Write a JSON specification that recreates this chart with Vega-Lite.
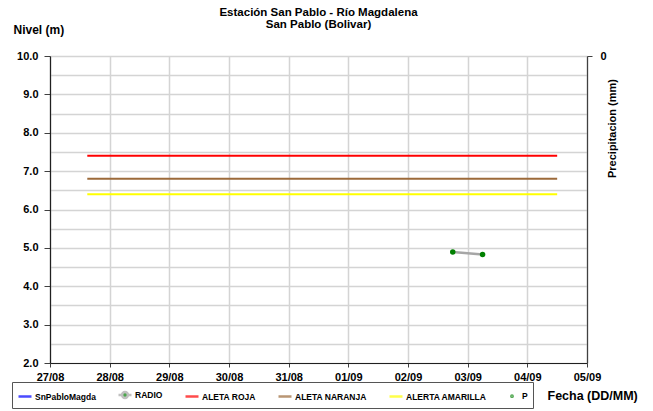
{
  "$schema": "https://vega.github.io/schema/vega-lite/v6.json",
  "autosize": {"type": "none"},
  "width": 537,
  "height": 307,
  "padding": {"left": 50, "top": 56, "right": 66, "bottom": 48},
  "background": "white",
  "title": {
    "text": ["Estación San Pablo - Río Magdalena", "San Pablo (Bolivar)"],
    "font": "Liberation Sans",
    "fontSize": 11.5,
    "fontWeight": "bold",
    "color": "black",
    "anchor": "middle",
    "lineHeight": 12,
    "offset": -7
  },
  "datasets": {
    "alertas": [
      {"serie": "ALETA ROJA", "fecha": "2023-08-27T15:00:00Z", "nivel": 7.4},
      {"serie": "ALETA ROJA", "fecha": "2023-09-04T12:00:00Z", "nivel": 7.4},
      {"serie": "ALETA NARANJA", "fecha": "2023-08-27T15:00:00Z", "nivel": 6.8},
      {"serie": "ALETA NARANJA", "fecha": "2023-09-04T12:00:00Z", "nivel": 6.8},
      {"serie": "ALERTA AMARILLA", "fecha": "2023-08-27T15:00:00Z", "nivel": 6.4},
      {"serie": "ALERTA AMARILLA", "fecha": "2023-09-04T12:00:00Z", "nivel": 6.4}
    ],
    "radio": [
      {"serie": "RADIO", "fecha": "2023-09-02T18:00:00Z", "nivel": 4.89},
      {"serie": "RADIO", "fecha": "2023-09-03T06:00:00Z", "nivel": 4.83}
    ],
    "precip": []
  },
  "layer": [
    {
      "data": {"name": "precip"},
      "mark": {"type": "point", "filled": true},
      "encoding": {
        "y": {
          "field": "p",
          "type": "quantitative",
          "scale": {"domain": [0, 10], "reverse": true, "nice": false, "zero": false},
          "axis": {
            "orient": "right",
            "values": [0],
            "format": "d",
            "grid": false,
            "title": "Precipitacion (mm)",
            "titleAngle": 270,
            "titleX": 25,
            "titleY": 72,
            "titleAlign": "center",
            "titleBaseline": "middle",
            "titleFont": "Liberation Sans",
            "titleFontSize": 11,
            "titleFontWeight": "bold",
            "titleColor": "black",
            "labelFont": "Liberation Sans",
            "labelFontSize": 11,
            "labelFontWeight": "bold",
            "labelColor": "black",
            "labelPadding": 8,
            "domainColor": "#404040",
            "domainWidth": 1.2,
            "tickColor": "#404040",
            "tickSize": 5
          }
        },
        "stroke": {
          "field": "serie",
          "type": "nominal",
          "scale": {
            "domain": ["SnPabloMagda", "RADIO", "ALETA ROJA", "ALETA NARANJA", "ALERTA AMARILLA", "P"],
            "range": ["#0000ff", "#a6a6a6", "#ff0000", "#9c6a3a", "#ffff00", "#008000"]
          }
        },
        "fill": {
          "field": "serie",
          "type": "nominal",
          "scale": {
            "domain": ["SnPabloMagda", "RADIO", "ALETA ROJA", "ALETA NARANJA", "ALERTA AMARILLA", "P"],
            "range": ["transparent", "#008000", "transparent", "transparent", "transparent", "#008000"]
          }
        },
        "shape": {
          "field": "serie",
          "type": "nominal",
          "scale": {
            "domain": ["SnPabloMagda", "RADIO", "ALETA ROJA", "ALETA NARANJA", "ALERTA AMARILLA", "P"],
            "range": [
              "M-1,0H1",
              "M-1,0H-0.45M0.45,0H1M-0.45,0A0.45,0.45,0,1,1,0.45,0A0.45,0.45,0,1,1,-0.45,0Z",
              "M-1,0H1",
              "M-1,0H1",
              "M-1,0H1",
              "M-0.1,0A0.1,0.1,0,1,1,0.1,0A0.1,0.1,0,1,1,-0.1,0Z"
            ]
          }
        }
      }
    },
    {
      "encoding": {
        "x": {
          "field": "fecha",
          "type": "temporal",
          "scale": {
            "type": "utc",
            "nice": false,
            "domain": [
              {"year": 2023, "month": 8, "date": 27, "utc": true},
              {"year": 2023, "month": 9, "date": 5, "utc": true}
            ]
          },
          "axis": {
            "format": "%d/%m",
            "tickCount": {"interval": "day", "step": 1},
            "grid": true,
            "gridColor": "#d4d4d4",
            "gridWidth": 1.5,
            "labelFont": "Liberation Sans",
            "labelFontSize": 11,
            "labelFontWeight": "bold",
            "labelColor": "black",
            "labelPadding": 4,
            "labelFlush": false,
            "labelOverlap": false,
            "tickSize": 4,
            "tickColor": "#404040",
            "domainColor": "#202020",
            "domainWidth": 1.2,
            "title": "Fecha (DD/MM)",
            "titleFont": "Liberation Sans",
            "titleFontSize": 12.5,
            "titleFontWeight": "bold",
            "titleColor": "black",
            "titleAlign": "left",
            "titleBaseline": "middle",
            "titleX": 497,
            "titleY": 32
          }
        },
        "y": {
          "field": "nivel",
          "type": "quantitative",
          "scale": {"domain": [2, 10], "nice": false, "zero": false},
          "axis": {
            "values": [2, 2.5, 3, 3.5, 4, 4.5, 5, 5.5, 6, 6.5, 7, 7.5, 8, 8.5, 9, 9.5, 10],
            "labelExpr": "datum.value % 1 === 0 ? format(datum.value, '.1f') : ''",
            "tickOpacity": {"expr": "datum.value % 1 === 0 ? 1 : 0"},
            "grid": true,
            "gridColor": "#d4d4d4",
            "gridWidth": 1.5,
            "labelFont": "Liberation Sans",
            "labelFontSize": 11,
            "labelFontWeight": "bold",
            "labelColor": "black",
            "labelPadding": 6,
            "labelOverlap": false,
            "labelFlush": false,
            "tickSize": 6,
            "tickColor": "#404040",
            "domainColor": "#202020",
            "domainWidth": 1.2,
            "title": "Nivel (m)",
            "titleFont": "Liberation Sans",
            "titleFontSize": 12,
            "titleFontWeight": "bold",
            "titleColor": "black",
            "titleAngle": 0,
            "titleAlign": "left",
            "titleBaseline": "middle",
            "titleX": -37,
            "titleY": -27
          }
        }
      },
      "layer": [
        {
          "data": {"name": "alertas"},
          "mark": {"type": "line", "strokeWidth": 2},
          "encoding": {
            "stroke": {"field": "serie", "type": "nominal"}
          }
        },
        {
          "data": {"name": "radio"},
          "mark": {"type": "line", "strokeWidth": 2.5},
          "encoding": {
            "stroke": {"field": "serie", "type": "nominal"}
          }
        },
        {
          "data": {"name": "radio"},
          "mark": {"type": "point", "filled": true, "color": "#008000", "size": 30, "opacity": 1}
        }
      ]
    }
  ],
  "resolve": {"scale": {"y": "independent"}},
  "config": {
    "view": {"stroke": null},
    "legend": {
      "orient": "none",
      "legendX": -38,
      "legendY": 326,
      "direction": "horizontal",
      "columns": 6,
      "title": null,
      "labelFont": "Liberation Sans",
      "labelFontSize": 8.5,
      "labelFontWeight": "bold",
      "labelColor": "black",
      "labelOffset": 2,
      "symbolSize": 169,
      "symbolStrokeWidth": 2.5,
      "symbolFillColor": "transparent",
      "symbolStrokeColor": "transparent",
      "strokeColor": "#555555",
      "padding": 5,
      "columnPadding": 17
    }
  }
}
